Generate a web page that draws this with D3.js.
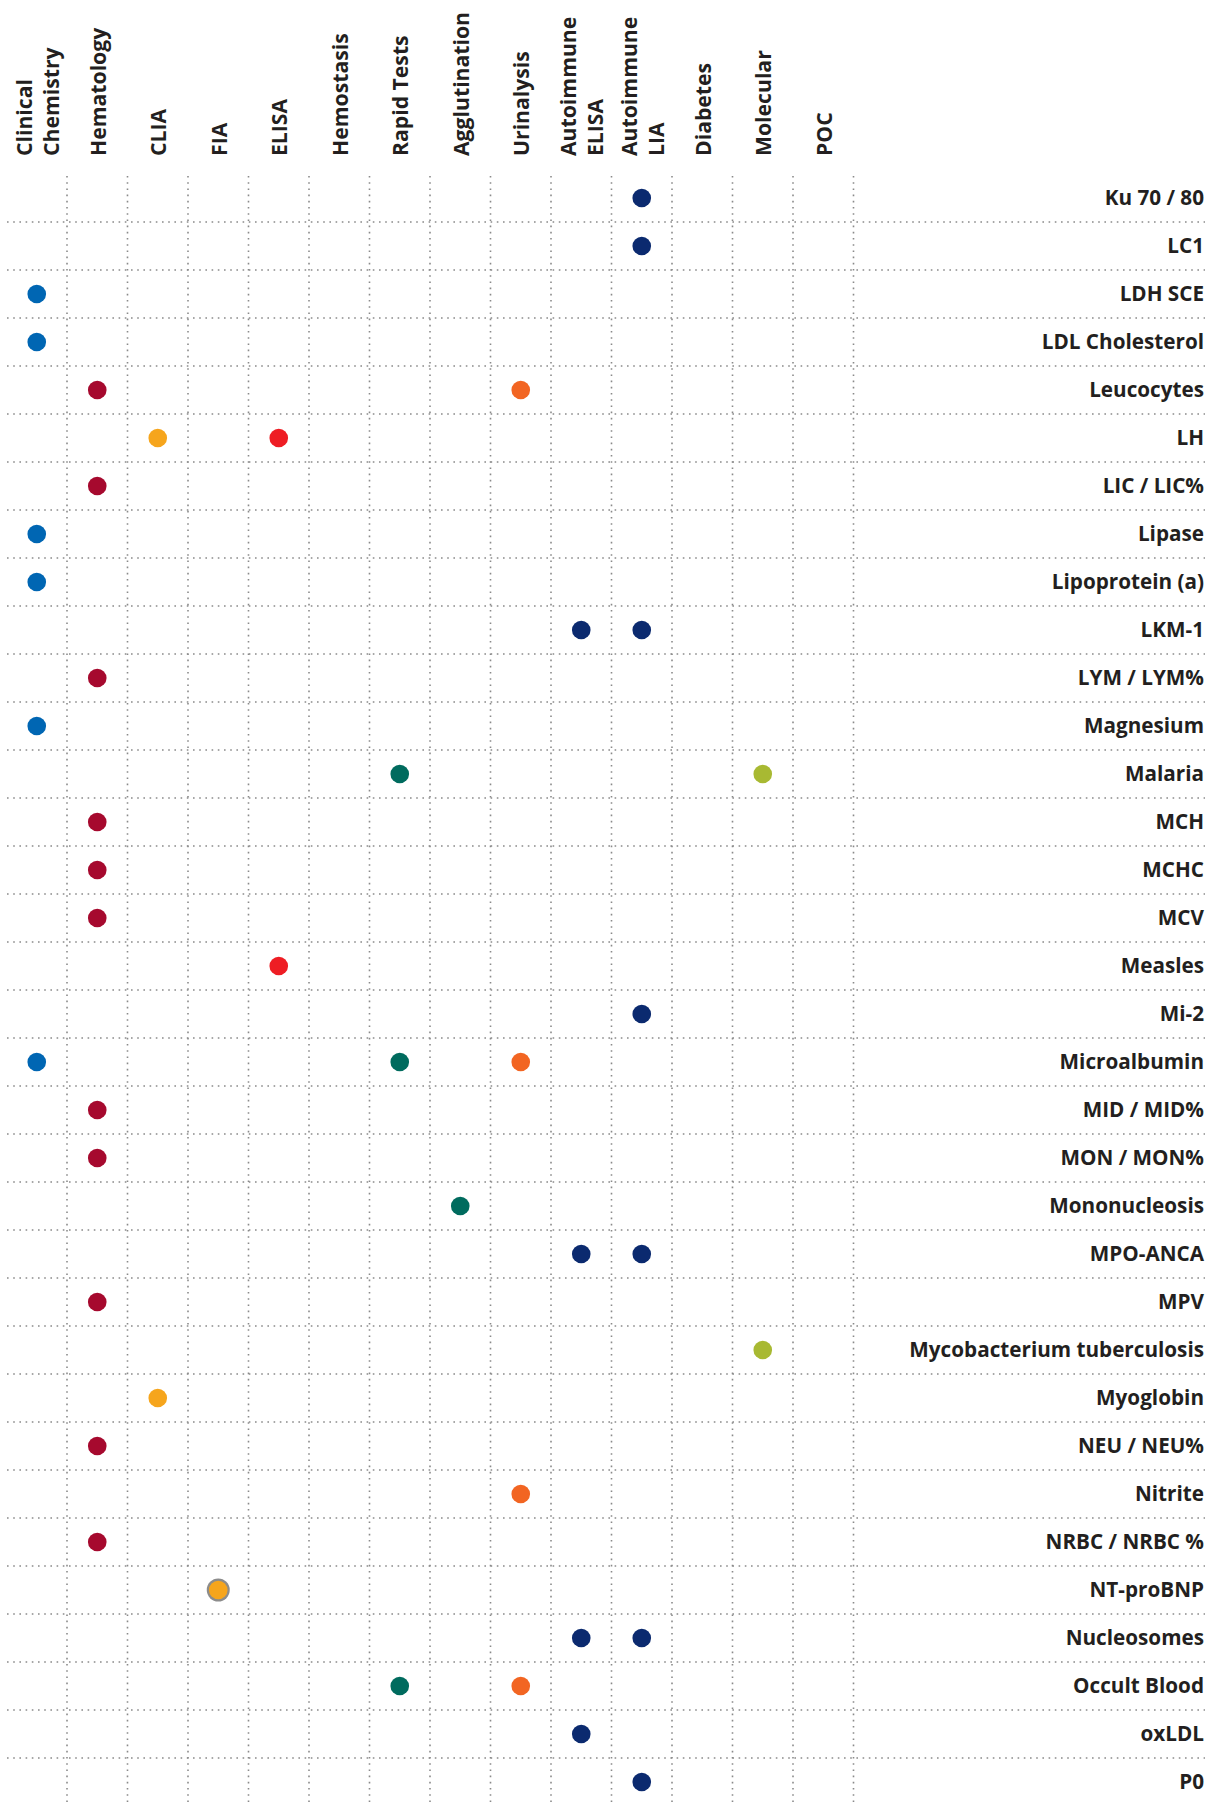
<!DOCTYPE html>
<meta charset="utf-8">
<html>
<script src="https://d3js.org/d3.v7.min.js"></script>
<style>
    body { margin: 0; background: #fff; }
    text { font-family: "Open Sans", Lato, sans-serif; font-weight: 700; fill: #231f20; }
</style>
<body>
<div id="chart"></div>
<script>
    // column headers (test methods)
    var columns = ["Clinical\nChemistry", "Hematology", "CLIA", "FIA", "ELISA", "Hemostasis",
        "Rapid Tests", "Agglutination", "Urinalysis", "Autoimmune\nELISA", "Autoimmune\nLIA",
        "Diabetes", "Molecular", "POC"];
    var columnColors = ["#0066b3", "#a6092e", "#f6a51c", "#f6a51c", "#ee1d24", "#888888",
        "#006b5e", "#006b5e", "#f26522", "#0b2a6f", "#0b2a6f", "#888888", "#a8b932", "#888888"];

    // parameters (rows)
    var rows = ["Ku 70 / 80", "LC1", "LDH SCE", "LDL Cholesterol", "Leucocytes", "LH", "LIC / LIC%",
        "Lipase", "Lipoprotein (a)", "LKM-1", "LYM / LYM%", "Magnesium", "Malaria", "MCH", "MCHC",
        "MCV", "Measles", "Mi-2", "Microalbumin", "MID / MID%", "MON / MON%", "Mononucleosis",
        "MPO-ANCA", "MPV", "Mycobacterium tuberculosis", "Myoglobin", "NEU / NEU%", "Nitrite",
        "NRBC / NRBC %", "NT-proBNP", "Nucleosomes", "Occult Blood", "oxLDL", "P0"];

    // which columns each row has a dot in (column index)
    var rowColumns = [[10], [10], [0], [0], [1, 8], [2, 4], [1],
        [0], [0], [9, 10], [1], [0], [6, 12], [1], [1],
        [1], [4], [10], [0, 6, 8], [1], [1], [7],
        [9, 10], [1], [12], [2], [1], [8],
        [1], [3], [9, 10], [6, 8], [9], [10]];

    // dots drawn with a grey ring
    var ringed = [["NT-proBNP", 3]];

    var width = 1211, height = 1804;
    var svg = d3.select("#chart").append("svg")
        .attr("width", width)
        .attr("height", height);

    var x = d3.scaleBand().domain(d3.range(columns.length)).range([6.5, 853.5]);
    var y = d3.scaleBand().domain(rows).range([174, 174 + 48 * rows.length]);

    var grid = svg.append("g")
        .attr("stroke", "#8a8a8a")
        .attr("stroke-width", 1.6)
        .attr("stroke-dasharray", "1.6,4.6");

    // vertical dotted lines between columns
    grid.selectAll("line.v")
        .data(d3.range(columns.length))
        .enter().append("line")
        .attr("class", "v")
        .attr("x1", function (d) { return x(d) + x.bandwidth(); })
        .attr("x2", function (d) { return x(d) + x.bandwidth(); })
        .attr("y1", 176)
        .attr("y2", height);

    // horizontal dotted lines between rows
    grid.selectAll("line.h")
        .data(rows.slice(0, -1))
        .enter().append("line")
        .attr("class", "h")
        .attr("x1", 7)
        .attr("x2", 1205)
        .attr("y1", function (d) { return y(d) + y.bandwidth(); })
        .attr("y2", function (d) { return y(d) + y.bandwidth(); });

    // column headers, rotated
    columns.forEach(function (c, i) {
        var lines = c.split("\n");
        var cx = x(i) + x.bandwidth() / 2;
        lines.forEach(function (l, j) {
            var off = (j - (lines.length - 1) / 2) * 27 + 8.5;
            svg.append("text")
                .attr("transform", "translate(" + (cx + off) + ",156) rotate(-90)")
                .style("font-size", "21.2px")
                .text(l);
        });
    });

    // row labels
    svg.selectAll("text.row")
        .data(rows)
        .enter().append("text")
        .attr("class", "row")
        .attr("x", 1204)
        .attr("y", function (d) { return y(d) + y.bandwidth() / 2; })
        .attr("dy", "0.36em")
        .attr("text-anchor", "end")
        .style("font-size", "20.7px")
        .text(function (d) { return d; });

    // dots
    var dots = [];
    rows.forEach(function (r, i) {
        rowColumns[i].forEach(function (c) { dots.push({ row: r, col: c }); });
    });

    svg.selectAll("circle.ring")
        .data(ringed)
        .enter().append("circle")
        .attr("cx", function (d) { return x(d[1]) + x.bandwidth() / 2; })
        .attr("cy", function (d) { return y(d[0]) + y.bandwidth() / 2; })
        .attr("r", 11.5)
        .attr("fill", "#8c8c8c");

    svg.selectAll("circle.dot")
        .data(dots)
        .enter().append("circle")
        .attr("class", "dot")
        .attr("cx", function (d) { return x(d.col) + x.bandwidth() / 2; })
        .attr("cy", function (d) { return y(d.row) + y.bandwidth() / 2; })
        .attr("r", 9.3)
        .attr("fill", function (d) { return columnColors[d.col]; });
</script>
</body>
</html>
